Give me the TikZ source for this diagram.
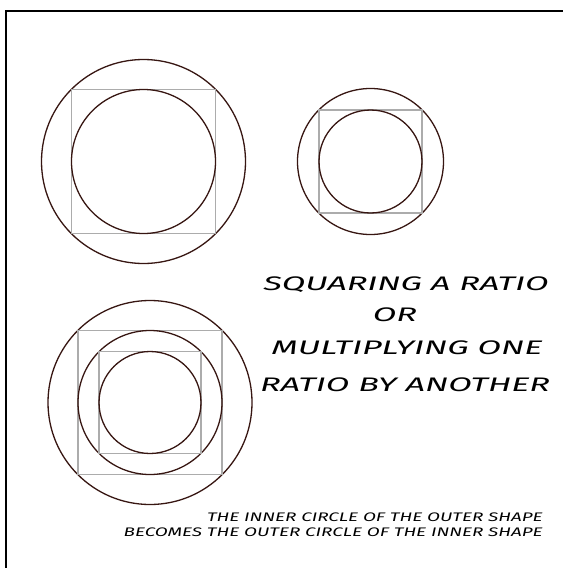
\documentclass[tikz,border=0pt]{standalone}
\usepackage{fontspec}
\setmainfont{Fira Sans}
\newfontfamily\handfont[FakeStretch=1.75]{Fira Sans}
\newfontfamily\notefont[FakeStretch=1.52]{Fira Sans}
\definecolor{ringcol}{RGB}{55,22,18}
\usetikzlibrary{positioning}

\begin{document}
\begin{tikzpicture}[
    x=0.5pt, y=-0.5pt,
    ring/.style={draw=ringcol, line width=0.65pt},
    sqbox/.style={draw=gray!65, line width=0.55pt},
    title/.style={font=\handfont\itshape\fontsize{9.8}{11}\selectfont, inner sep=0pt},
    note/.style={font=\notefont\itshape\fontsize{6.2}{7}\selectfont, inner sep=0pt, anchor=east}
]
\useasboundingbox (0,0) rectangle (563,568);
\draw[line width=1pt] (6,568) -- (6,11) -- (563,11);

% top left: circle, square, circle
\coordinate (big) at (143.5,161.5);
\draw[ring] (big) circle[radius=102];
\draw[sqbox, shift={(big)}] (-72,-72) rectangle (72,72);
\draw[ring] (big) circle[radius=72];

% top right: the same, smaller
\coordinate (small) at (370.5,161.5);
\draw[ring] (small) circle[radius=73];
\draw[sqbox, shift={(small)}] (-51.5,-51.5) rectangle (51.5,51.5);
\draw[ring] (small) circle[radius=51.5];

% bottom left: both nested
\coordinate (both) at (150,402.5);
\draw[ring] (both) circle[radius=102];
\draw[sqbox, shift={(both)}] (-72,-72) rectangle (72,72);
\draw[ring] (both) circle[radius=72];
\draw[sqbox, shift={(both)}] (-51,-51) rectangle (51,51);
\draw[ring] (both) circle[radius=51];

% text
\node[title] (sq) at (406,285) {SQUARING A RATIO};
\node[title] (or) at (395,315) {OR};
\node[title] (mult) at (407,348) {MULTIPLYING ONE};
\node[title] (by) at (405,385) {RATIO BY ANOTHER};

\node[note] (inner) at (543,517) {THE INNER CIRCLE OF THE OUTER SHAPE};
\node[note] (outer) at (543,532) {BECOMES THE OUTER CIRCLE OF THE INNER SHAPE};
\end{tikzpicture}
\end{document}
